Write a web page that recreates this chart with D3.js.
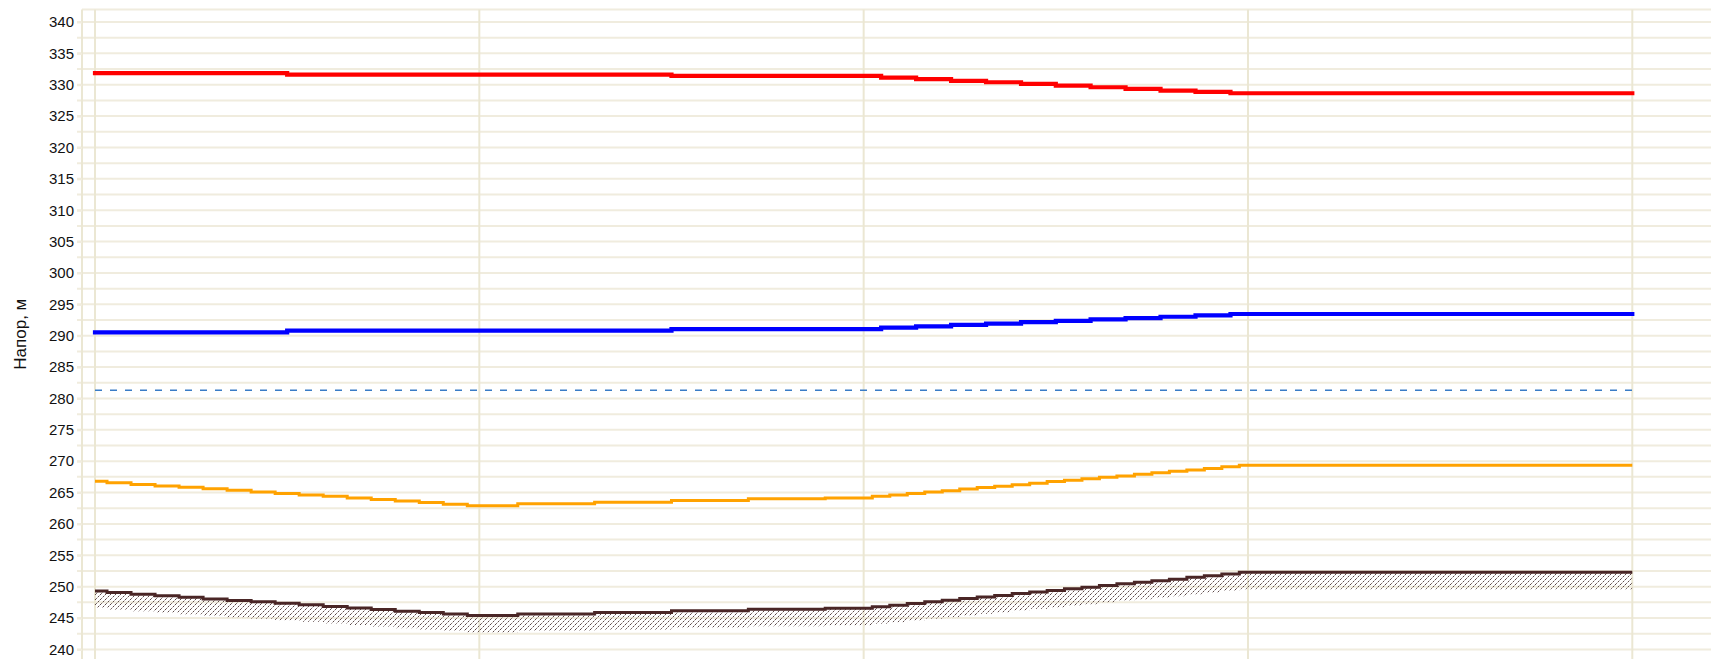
<!DOCTYPE html>
<html><head><meta charset="utf-8">
<script src="https://cdn.jsdelivr.net/npm/d3@7"></script>
<style>body{margin:0;background:#fff;} svg{display:block;}</style>
</head><body><svg id="c" width="1711" height="659"></svg>
<script>
// ---- data ----
const yTicks = [240,245,250,255,260,265,270,275,280,285,290,295,300,305,310,315,320,325,330,335,340];
const yMinor = [242.5,247.5,252.5,257.5,262.5,267.5,272.5,277.5,282.5,287.5,292.5,297.5,302.5,307.5,312.5,317.5,322.5,327.5,332.5,337.5];
const sectionTicks = [0,1,2,3,4];

// red / blue head lines (coarse grid)
const xCoarse = [0,1,2,2.091,2.182,2.273,2.364,2.455,2.545,2.636,2.727,2.818,2.909,3,4];
const redHead  = [331.85,331.6,331.4,331.13,330.88,330.61,330.4,330.13,329.86,329.6,329.33,329.06,328.85,328.64,328.64];
const blueHead = [290.53,290.8,291.06,291.28,291.5,291.72,291.93,292.15,292.37,292.59,292.81,293.02,293.24,293.46,293.46];

// orange / ground profile (fine grid)
const xFine = [0,0.0625,0.125,0.1875,0.25,0.3125,0.375,0.4375,0.5,0.5625,0.625,0.6875,0.75,0.8125,0.875,0.9375,1,
  1.2,1.4,1.6,1.8,2,
  2.045,2.091,2.136,2.182,2.227,2.273,2.318,2.364,2.409,2.455,2.5,2.545,2.591,2.636,2.682,2.727,2.773,2.818,2.864,2.909,2.955,3,
  4];
const orangeHead = [266.8,266.55,266.3,266.05,265.85,265.6,265.35,265.1,264.85,264.6,264.4,264.15,263.9,263.65,263.4,263.15,262.9,
  263.2,263.45,263.75,264.0,264.15,
  264.4,264.6,264.85,265.1,265.3,265.55,265.8,266.0,266.25,266.5,266.75,266.95,267.2,267.45,267.65,267.9,268.15,268.4,268.6,268.85,269.1,269.35,
  269.35];
const groundLevel = [249.3,249.05,248.8,248.55,248.3,248.05,247.8,247.6,247.35,247.1,246.85,246.6,246.35,246.1,245.9,245.65,245.4,
  245.65,245.9,246.15,246.4,246.55,
  246.8,247.05,247.3,247.6,247.85,248.1,248.35,248.6,248.9,249.15,249.4,249.65,249.9,250.2,250.45,250.7,250.95,251.2,251.5,251.75,252.0,252.3,
  252.3];
const dashedLevel = 281.3;
const dashedX = [0,4];
const yTitle = "Напор, м";

// ---- drawing ----
const W = 1711, H = 659;
const svg = d3.select('#c');
const x = d3.scaleLinear().domain([0,4]).range([95,1632.3]);
const y = d3.scaleLinear().domain([240,340]).range([649.4,22]);
const axisX = 82, gridLeft = 77;

const gridColor = '#f0ecde';
const vGridColor = '#ebe7d3';

// horizontal grid
const g = svg.append('g');
g.selectAll('line.h').data(yTicks.concat(yMinor)).join('line')
  .attr('x1', gridLeft).attr('x2', W)
  .attr('y1', d=>y(d)).attr('y2', d=>y(d))
  .attr('stroke', gridColor).attr('stroke-width', 2);
// top border
g.append('line').attr('x1', axisX).attr('x2', W).attr('y1', y(342)).attr('y2', y(342))
  .attr('stroke', gridColor).attr('stroke-width', 2);
// vertical grid
g.selectAll('line.v').data(sectionTicks).join('line')
  .attr('x1', d=>x(d)).attr('x2', d=>x(d)).attr('y1', y(342)).attr('y2', H)
  .attr('stroke', vGridColor).attr('stroke-width', 2);

// y axis
const ax = svg.append('g').attr('transform', `translate(${axisX},0)`)
  .call(d3.axisLeft(y).tickValues(yTicks).tickSize(5).tickPadding(3).tickFormat(d3.format('d')));
ax.select('.domain').attr('stroke', vGridColor).attr('stroke-width', 2).attr('d', `M0,${y(342)}V${H}`);
ax.selectAll('.tick line').attr('stroke', gridColor).attr('stroke-width', 2);
ax.selectAll('.tick text').attr('fill', '#111').style('font-family', '"Liberation Sans", Arial, sans-serif').style('font-size', '15px');

svg.append('text')
  .attr('transform', `translate(26,${(y(342)+H)/2}) rotate(-90)`)
  .attr('text-anchor', 'middle')
  .style('font-family', '"Liberation Sans", Arial, sans-serif').style('font-size', '17px')
  .attr('fill', '#111').text(yTitle);

// hatch pattern
const defs = svg.append('defs');
const pat = defs.append('pattern').attr('id', 'hatch').attr('patternUnits', 'userSpaceOnUse')
  .attr('width', 5).attr('height', 5);
pat.append('path').attr('d', 'M0,5L5,0M-1,1L1,-1M4,6L6,4')
  .attr('stroke', '#5a4646').attr('stroke-width', 1).attr('stroke-dasharray', '2.5,1.2');

const groundData = xFine.map((xv,i)=>({x:xv, v:groundLevel[i]}));
const orangeData = xFine.map((xv,i)=>({x:xv, v:orangeHead[i]}));
const redData = xCoarse.map((xv,i)=>({x:xv, v:redHead[i]}));
const blueData = xCoarse.map((xv,i)=>({x:xv, v:blueHead[i]}));

const area = d3.area().x(d=>x(d.x)).y1(d=>y(d.v)).y0(d=>y(d.v)+17).curve(d3.curveStep);
svg.append('path').datum(groundData).attr('d', area).attr('fill', 'url(#hatch)');

const line = d3.line().x(d=>x(d.x)).y(d=>y(d.v)).curve(d3.curveStep);

svg.append('path').datum(dashedX.map(xv=>({x:xv, v:dashedLevel})))
  .attr('d', d3.line().x(d=>x(d.x)).y(d=>y(d.v)))
  .attr('fill','none').attr('stroke','#3a7cc6').attr('stroke-width',1.6).attr('stroke-dasharray','7,8');

svg.append('path').datum(groundData).attr('d', line)
  .attr('fill','none').attr('stroke','#4a2626').attr('stroke-width',3);
svg.append('path').datum(orangeData).attr('d', line)
  .attr('fill','none').attr('stroke','#ffa200').attr('stroke-width',3);
svg.append('path').datum(blueData).attr('d', line)
  .attr('fill','none').attr('stroke','#0000ff').attr('stroke-width',4.2).attr('stroke-linecap','square');
svg.append('path').datum(redData).attr('d', line)
  .attr('fill','none').attr('stroke','#ff0000').attr('stroke-width',4.2).attr('stroke-linecap','square');
</script>
</body></html>
